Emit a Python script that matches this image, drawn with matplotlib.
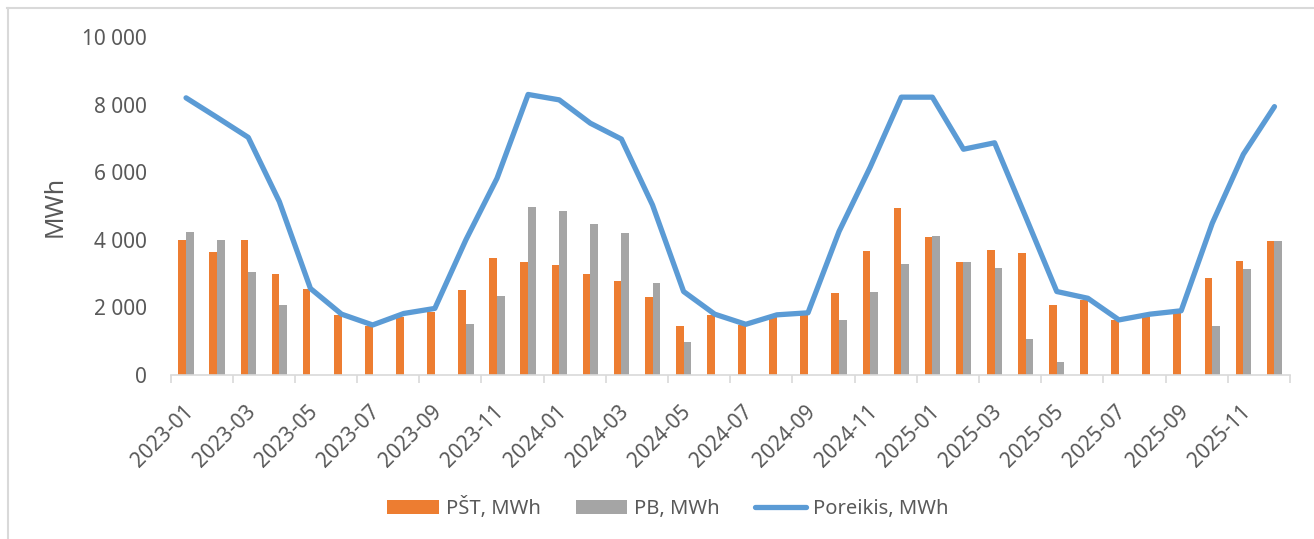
import numpy as np
import matplotlib.pyplot as plt
import matplotlib.transforms as mtransforms
from matplotlib.lines import Line2D
from matplotlib.ticker import FuncFormatter

# monthly data, 2023-01 .. 2025-12
months = [f"{y}-{m:02d}" for y in (2023, 2024, 2025) for m in range(1, 13)]

pst = [4000, 3640, 4000, 3000, 2540, 1770, 1450, 1730, 1870, 2510, 3450, 3340,
       3250, 2990, 2790, 2310, 1460, 1780, 1480, 1730, 1800, 2440, 3670, 4930,
       4080, 3330, 3700, 3610, 2070, 2220, 1630, 1730, 1820, 2860, 3380, 3960]
pb = [4220, 4000, 3040, 2070, 0, 0, 0, 0, 0, 1500, 2340, 4960,
      4860, 4470, 4190, 2710, 990, 0, 0, 0, 0, 1630, 2450, 3280,
      4110, 3330, 3170, 1060, 380, 0, 0, 0, 0, 1450, 3130, 3960]
poreikis = [8200, 7620, 7030, 5130, 2560, 1800, 1480, 1820, 1970, 4000, 5820, 8300,
            8140, 7450, 6980, 5030, 2470, 1800, 1500, 1780, 1840, 4250, 6150, 8220,
            8220, 6680, 6870, 4680, 2470, 2270, 1630, 1800, 1900, 4490, 6530, 7940]

ORANGE = "#ED7D31"
GRAY = "#A5A5A5"
BLUE = "#5B9BD5"
TXT = "#595959"
AXC = "#D9D9D9"

plt.rcParams["font.family"] = ["Noto Sans", "DejaVu Sans"]

fig = plt.figure(figsize=(13.14, 5.39), dpi=100)
ax = fig.add_axes([170.5 / 1314, 1 - 375 / 539, (1290 - 170.5) / 1314, (375 - 37) / 539])

x = np.arange(len(months))
w = 0.247
b1 = ax.bar(x - w / 2, pst, width=w, color=ORANGE, label="PŠT, MWh", zorder=2)
b2 = ax.bar(x + w / 2, pb, width=w, color=GRAY, label="PB, MWh", zorder=2)
ln, = ax.plot(x, poreikis, color=BLUE, lw=3.8, solid_capstyle="round",
              solid_joinstyle="round", label="Poreikis, MWh", zorder=3)

ax.set_xlim(-0.5, len(months) - 0.5)
ax.set_ylim(0, 10000)
ax.set_yticks(range(0, 10001, 2000))
ax.yaxis.set_major_formatter(FuncFormatter(lambda v, p: f"{int(v):,}".replace(",", " ")))
ax.tick_params(axis="y", length=0, pad=17, labelsize=15, labelcolor=TXT)

ax.set_xticks(x[::2])
ax.set_xticklabels(months[::2], rotation=45, ha="right", rotation_mode="anchor", va="center")
ax.set_xticks(np.arange(-0.5, len(months), 2), minor=True)
ax.tick_params(axis="x", which="major", length=0, pad=24, labelsize=15, labelcolor=TXT)
ax.tick_params(axis="x", which="minor", length=6, width=1.2, color=AXC)
# nudge the rotated month labels a little to the right
shift = mtransforms.ScaledTranslation(4 / 100, 0, fig.dpi_scale_trans)
for lab in ax.get_xticklabels():
    lab.set_transform(lab.get_transform() + shift)

for s in ("top", "right", "left"):
    ax.spines[s].set_visible(False)
ax.spines["bottom"].set_color(AXC)
ax.spines["bottom"].set_linewidth(1.2)

ax.set_ylabel("MWh", fontsize=18, color=TXT)
ax.yaxis.set_label_coords((68 - 170.5) / 1119.5, 0.5)

fig.legend([b1, b2, ln], ["PŠT, MWh", "PB, MWh", "Poreikis, MWh"], loc="center",
           bbox_to_anchor=(668 / 1314, 1 - 508 / 539),
           ncol=3, frameon=False, fontsize=14.5, labelcolor=TXT,
           handlelength=2.55, handleheight=0.72, handletextpad=0.35, columnspacing=1.75)

# chart frame (top and left visible)
fig.add_artist(Line2D([7 / 1314, 1], [1 - 8 / 539, 1 - 8 / 539], color=AXC, lw=1.5))
fig.add_artist(Line2D([8 / 1314, 8 / 1314], [0, 1 - 8 / 539], color=AXC, lw=1.5))

fig.savefig("out.png", dpi=100, facecolor="white")
